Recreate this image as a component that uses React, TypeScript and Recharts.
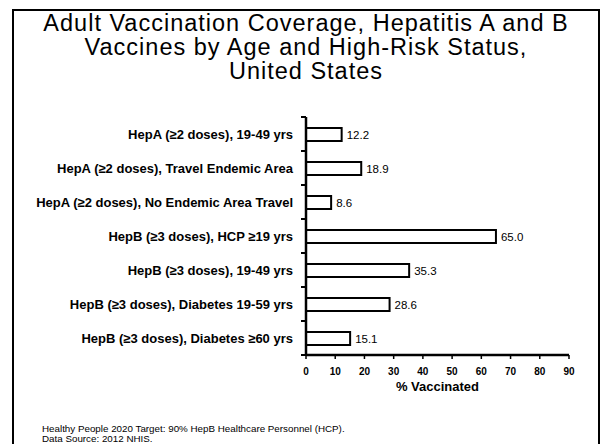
import React from 'react';
import { BarChart, Bar, XAxis, YAxis, LabelList } from 'recharts';

const categories = [
  'HepA (≥2 doses), 19-49 yrs',
  'HepA (≥2 doses), Travel Endemic Area',
  'HepA (≥2 doses), No Endemic Area Travel',
  'HepB (≥3 doses), HCP ≥19 yrs',
  'HepB (≥3 doses), 19-49 yrs',
  'HepB (≥3 doses), Diabetes 19-59 yrs',
  'HepB (≥3 doses), Diabetes ≥60 yrs',
];
const values = [12.2, 18.9, 8.6, 65.0, 35.3, 28.6, 15.1];
const xTicks = [0, 10, 20, 30, 40, 50, 60, 70, 80, 90];

const titleLines = [
  'Adult Vaccination Coverage, Hepatitis A and B',
  'Vaccines by Age and High-Risk Status,',
  'United States',
];
const footerLines = [
  'Healthy People 2020 Target: 90% HepB Healthcare Personnel (HCP).',
  'Data Source: 2012 NHIS.',
];

const data = categories.map((name, i) => ({ name, value: values[i] }));
const FONT = "Arial, 'Liberation Sans', Helvetica, sans-serif";
const PLOT_TOP = 117;
const PLOT_BOTTOM_MARGIN = 89;
const CHART_H = 444;
const INK = '#000';

const CatTick = (props: any) => {
  const { x, y, payload, index, visibleTicksCount } = props;
  const n = visibleTicksCount || categories.length;
  const half =
    payload && typeof payload.offset === 'number' && payload.offset > 0
      ? payload.offset
      : (CHART_H - PLOT_TOP - PLOT_BOTTOM_MARGIN) / n / 2;
  const axisX = x + 13;
  return (
    <g>
      <line x1={axisX} x2={axisX - 5} y1={y - half} y2={y - half} stroke={INK} strokeWidth={2} />
      {index === n - 1 && (
        <line x1={axisX} x2={axisX - 5} y1={y + half} y2={y + half} stroke={INK} strokeWidth={2} />
      )}
      <text x={x} y={y} dy="0.355em" textAnchor="end" fill="#000" fontSize={13} fontWeight="bold" fontFamily={FONT}>
        {payload.value}
      </text>
    </g>
  );
};

export default function App() {
  return (
    <div style={{ position: 'absolute', left: 0, top: 0, width: 602, height: 444, background: '#fff' }}>
      <div style={{ position: 'absolute', left: 0, top: 0 }}>
        <BarChart
          width={602}
          height={CHART_H}
          data={data}
          layout="vertical"
          margin={{ top: PLOT_TOP, right: 33, bottom: PLOT_BOTTOM_MARGIN - 40, left: 0 }}
          barCategoryGap={0}
        >
          <XAxis
            type="number"
            domain={[0, 90]}
            ticks={xTicks}
            interval={0}
            height={40}
            axisLine={{ stroke: INK, strokeWidth: 2.5 }}
            tickLine={{ stroke: INK, strokeWidth: 1.5 }}
            tickSize={4}
            tickMargin={9}
            tick={{ fill: '#000', fontSize: 10, fontWeight: 'bold', fontFamily: FONT }}
            label={{
              value: '% Vaccinated',
              position: 'insideBottom',
              offset: 4,
              fill: '#000',
              fontSize: 13,
              fontWeight: 'bold',
              fontFamily: FONT,
            }}
          />
          <YAxis
            type="category"
            dataKey="name"
            width={306}
            interval={0}
            axisLine={{ stroke: INK, strokeWidth: 2.5 }}
            tickLine={false}
            tickSize={5}
            tickMargin={8}
            tick={<CatTick />}
          />
          <Bar dataKey="value" barSize={13} fill="#fff" stroke={INK} strokeWidth={2} isAnimationActive={false}>
            <LabelList
              dataKey="value"
              position="right"
              offset={5}
              fill="#000"
              fontSize={11.5}
              fontFamily={FONT}
              formatter={(v: number) => v.toFixed(1)}
            />
          </Bar>
        </BarChart>
      </div>
      <svg
        width={602}
        height={444}
        style={{ position: 'absolute', left: 0, top: 0, pointerEvents: 'none', zIndex: 5 }}
      >
        <path d="M13,444 V10 H599 V444" fill="none" stroke="#000" strokeWidth={2} />
        {titleLines.map((l, i) => (
          <text
            key={i}
            x={306}
            y={31 + i * 24}
            textAnchor="middle"
            fontFamily={FONT}
            fontSize={23.5}
            letterSpacing={1.0}
            fill="#000"
          >
            {l}
          </text>
        ))}
        {footerLines.map((l, i) => (
          <text key={i} x={42} y={432 + i * 10} fontFamily={FONT} fontSize={9.8} fill="#000">
            {l}
          </text>
        ))}
      </svg>
    </div>
  );
}
